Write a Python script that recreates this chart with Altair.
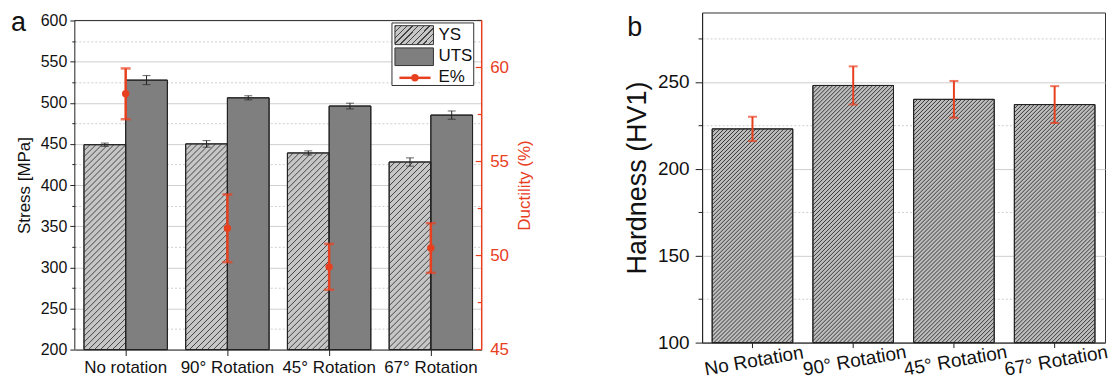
import altair as alt
import pandas as pd

# ---------------- data ----------------
cats_a = ["No rotation", "90° Rotation", "45° Rotation", "67° Rotation"]
ys = [449, 450, 439, 428]
ys_err = [2, 4, 2.5, 5]
uts = [527.5, 506, 496, 485]
uts_err = [5.5, 2.5, 3.5, 5]
elong = [58.6, 51.45, 49.4, 50.4]
elong_err = [1.35, 1.8, 1.22, 1.32]
series_names = ["YS", "UTS", "E%"]

cats_b = ["No Rotation", "90° Rotation", "45° Rotation", "67° Rotation"]
hv = [223, 248, 240, 237]
hv_err = [7, 11, 10.6, 10.6]

stress_ticks = [200, 225, 250, 275, 300, 325, 350, 375, 400, 425, 450,
                475, 500, 525, 550, 575, 600]
duct_ticks_major = [45, 50, 55, 60]
duct_ticks_minor = [47.5, 52.5, 57.5, 62.5]
duct_ticks = [45, 47.5, 50, 52.5, 55, 57.5, 60, 62.5]
hv_ticks = [100, 125, 150, 175, 200, 225, 250, 275]
panel_labels = ["a", "b"]

FONT = "Liberation Sans"
RED = "#e8401f"
DARK = "#222222"

# panel geometry (plot areas)
WA, HA = 408, 330          # panel a frame
EXT = 8                    # panel a frame sits this much lower than panel b
WB, HB = 404, 331          # panel b frame

S_LO, S_HI = 200, 600
D_LO, D_HI = 45, 62.5
s_top = S_HI + EXT / (HA / (S_HI - S_LO))
d_top = D_HI + EXT / (HA / (D_HI - D_LO))


def hatch(x2, y2, n, bg, fg, frac):
    stops = []
    for i in range(n):
        a = i / n
        b = (i + frac) / n
        c = (i + 1) / n
        stops += [{"offset": a, "color": fg}, {"offset": b, "color": fg},
                  {"offset": b, "color": bg}, {"offset": c, "color": bg}]
    return {"gradient": "linear", "x1": 0, "y1": 0, "x2": x2, "y2": y2,
            "stops": stops}


hatch_leg = hatch(1.202, 0.585, 10, "#c6c6c6", "#444444", 0.25)

# ---------------- tables ----------------
rows = []
for i, c in enumerate(cats_a):
    rows.append({"category": c, "idx": i, "series": "YS", "value": ys[i],
                 "lo": ys[i] - ys_err[i], "hi": ys[i] + ys_err[i]})
    rows.append({"category": c, "idx": i, "series": "UTS", "value": uts[i],
                 "lo": uts[i] - uts_err[i], "hi": uts[i] + uts_err[i]})
df_bars = pd.DataFrame(rows)
df_ys = df_bars[df_bars["series"] == "YS"]

df_el = pd.DataFrame({
    "category": cats_a,
    "elong": elong,
    "elo": [v - e for v, e in zip(elong, elong_err)],
    "ehi": [v + e for v, e in zip(elong, elong_err)],
})

df_hv = pd.DataFrame({
    "category": cats_b,
    "idx": list(range(len(cats_b))),
    "hv": hv,
    "lo": [v - e for v, e in zip(hv, hv_err)],
    "hi": [v + e for v, e in zip(hv, hv_err)],
})

one = pd.DataFrame({"k": [0]})


def hatch_layer(df, field, base, x_start, bar_frac, px_x, px_y, spacing,
                y_scale, color, width):
    """diagonal hatch lines clipped to each bar, computed from the bar value"""
    W = bar_frac * px_x
    return alt.Chart(df).transform_calculate(
        x0=f"datum.idx + {x_start}",
        H=f"(datum.{field} - {base}) * {px_y}",
    ).transform_calculate(
        ks=f"sequence(1, ceil(({W} + datum.H) / {spacing}))"
    ).transform_flatten(["ks"]).transform_calculate(
        c=f"datum.ks * {spacing} - datum.H"
    ).transform_calculate(
        u1="max(0, datum.c)", u2=f"min({W}, datum.H + datum.c)"
    ).transform_calculate(
        hx1=f"datum.x0 + datum.u1 / {px_x}",
        hx2=f"datum.x0 + datum.u2 / {px_x}",
        hy1=f"{base} + (datum.u1 - datum.c) / {px_y}",
        hy2=f"{base} + (datum.u2 - datum.c) / {px_y}",
    ).mark_rule(color=color, strokeWidth=width).encode(
        x=alt.X("hx1:Q", scale=alt.Scale(domain=[0, 4], nice=False, zero=False), axis=None),
        x2="hx2:Q",
        y=alt.Y("hy1:Q", scale=y_scale, axis=None),
        y2="hy2:Q",
    )


# ---------------- panel a ----------------
x_scale_a = alt.Scale(domain=cats_a, paddingInner=0.18, paddingOuter=0.09)
x_a = alt.X("category:N", sort=cats_a, scale=x_scale_a,
            axis=alt.Axis(title=None, labelAngle=0, labelFontSize=17,
                          labelColor="#111", tickSize=6, labelPadding=4,
                          domainColor=DARK, tickColor=DARK, grid=False))
x_a_noaxis = alt.X("category:N", sort=cats_a, scale=x_scale_a, axis=None)
xo = alt.XOffset("series:N", sort=["YS", "UTS"],
                 scale=alt.Scale(domain=["YS", "UTS"], paddingInner=0, paddingOuter=0))

stress_scale = alt.Scale(domain=[S_LO, s_top], nice=False, zero=False)
stress_axis = alt.Axis(
    title="Stress [MPa]", titleFontSize=17, titleFontWeight="normal",
    titleColor="#111", titlePadding=7, titleY=EXT + HA / 2,
    values=stress_ticks, labelFontSize=16, labelColor="#111", labelPadding=3,
    labelExpr="datum.value % 50 === 0 ? datum.label : ''", labelOverlap=False,
    tickSize={"condition": {"test": "datum.value % 50 === 0", "value": 5}, "value": 3},
    tickColor=DARK, domain=False,
    grid=True, gridColor="#cfcfcf",
    gridDash={"condition": {"test": "datum.value % 50 === 0", "value": []}, "value": [2, 2]},
)

bars = alt.Chart(df_bars).mark_bar(stroke=DARK, strokeWidth=1).encode(
    x=x_a, xOffset=xo,
    y=alt.Y("value:Q", scale=stress_scale, axis=stress_axis),
    y2=alt.datum(S_LO),
    fill=alt.Fill("series:N", scale=alt.Scale(domain=["YS", "UTS"],
                                              range=["#c6c6c6", "#7f7f7f"]), legend=None),
)
hatch_a = hatch_layer(df_ys, "value", S_LO, 0.09, 0.41, WA / 4, HA / (S_HI - S_LO), 6,
                      stress_scale, "#444444", 1)
outline_a = alt.Chart(df_bars).mark_bar(stroke=DARK, strokeWidth=1, fillOpacity=0).encode(
    x=x_a_noaxis, xOffset=xo,
    y=alt.Y("value:Q", scale=stress_scale, axis=None), y2=alt.datum(S_LO))
err_rule = alt.Chart(df_bars).mark_rule(color=DARK, strokeWidth=1).encode(
    x=x_a_noaxis, xOffset=xo,
    y=alt.Y("lo:Q", scale=stress_scale, axis=None), y2="hi:Q")
err_lo = alt.Chart(df_bars).mark_tick(color=DARK, thickness=1, size=8).encode(
    x=x_a_noaxis, xOffset=xo, y=alt.Y("lo:Q", scale=stress_scale, axis=None))
err_hi = alt.Chart(df_bars).mark_tick(color=DARK, thickness=1, size=8).encode(
    x=x_a_noaxis, xOffset=xo, y=alt.Y("hi:Q", scale=stress_scale, axis=None))
errs_a = alt.layer(outline_a, err_rule, err_lo, err_hi)

# frame of panel a (left axis line, top border, red right axis line)
frame_left = alt.Chart(one).mark_rule(color=DARK, strokeWidth=1).encode(
    x=alt.value(0), y=alt.YDatum(S_LO, scale=stress_scale, axis=None), y2=alt.Y2Datum(S_HI))
frame_top = alt.Chart(one).mark_rule(color="#333", strokeWidth=1).encode(
    x=alt.value(0), x2=alt.value(WA), y=alt.YDatum(S_HI, scale=stress_scale, axis=None))
frame_right = alt.Chart(one).mark_rule(color=RED, strokeWidth=1.5).encode(
    x=alt.value(WA), y=alt.YDatum(S_LO, scale=stress_scale, axis=None), y2=alt.Y2Datum(S_HI))
frame_a = alt.layer(frame_left, frame_top, frame_right)

duct_scale = alt.Scale(domain=[D_LO, d_top], nice=False, zero=False)
duct_axis = alt.Axis(
    orient="right", title="Ductility (%)", titleFontSize=17, titleFontWeight="normal",
    titleColor=RED, titleAngle=270, titleBaseline="top", titlePadding=8,
    titleY=EXT + HA / 2,
    values=duct_ticks, labelFontSize=17, labelColor=RED, labelPadding=8,
    labelExpr="datum.value % 5 === 0 ? datum.label : ''", labelOverlap=False,
    ticks=False, domain=False, grid=False,
)

el_rule = alt.Chart(df_el).mark_rule(color=RED, strokeWidth=2.5).encode(
    x=x_a_noaxis, y=alt.Y("elo:Q", scale=duct_scale, axis=duct_axis), y2="ehi:Q")
el_lo = alt.Chart(df_el).mark_tick(color=RED, thickness=2.5, size=10).encode(
    x=x_a_noaxis, y=alt.Y("elo:Q", scale=duct_scale, axis=duct_axis))
el_hi = alt.Chart(df_el).mark_tick(color=RED, thickness=2.5, size=10).encode(
    x=x_a_noaxis, y=alt.Y("ehi:Q", scale=duct_scale, axis=duct_axis))
el_pt = alt.Chart(df_el).mark_circle(color=RED, size=55, opacity=1).encode(
    x=x_a_noaxis, y=alt.Y("elong:Q", scale=duct_scale, axis=duct_axis))
tick_major = alt.Chart(pd.DataFrame({"t": duct_ticks_major})).mark_rule(
    color=RED, strokeWidth=1.2).encode(
    y=alt.Y("t:Q", scale=duct_scale, axis=duct_axis),
    x=alt.value(WA - 6), x2=alt.value(WA))
tick_minor = alt.Chart(pd.DataFrame({"t": duct_ticks_minor})).mark_rule(
    color=RED, strokeWidth=1.2).encode(
    y=alt.Y("t:Q", scale=duct_scale, axis=duct_axis),
    x=alt.value(WA - 4), x2=alt.value(WA))
duct_group = alt.layer(el_pt, el_rule, el_lo, el_hi, tick_major, tick_minor)

# legend (drawn inside the plot area)
leg_box = alt.Chart(one).mark_rect(fill="white", stroke="#333", strokeWidth=1).encode(
    x=alt.value(318), x2=alt.value(400), y=alt.value(EXT + 2.5), y2=alt.value(EXT + 65.2))
leg_ys = alt.Chart(one).mark_rect(fill=hatch_leg, stroke="#333", strokeWidth=1).encode(
    x=alt.value(321), x2=alt.value(359.6), y=alt.value(EXT + 5.2), y2=alt.value(EXT + 24.2))
leg_uts = alt.Chart(one).mark_rect(fill="#7f7f7f", stroke="#333", strokeWidth=1).encode(
    x=alt.value(321), x2=alt.value(359.6), y=alt.value(EXT + 27.5), y2=alt.value(EXT + 45.2))
leg_line = alt.Chart(one).mark_rule(color=RED, strokeWidth=2.5).encode(
    x=alt.value(325.5), x2=alt.value(356.7), y=alt.value(EXT + 57.5))
leg_dot = alt.Chart(one).mark_circle(color=RED, size=55, opacity=1).encode(
    x=alt.value(341), y=alt.value(EXT + 57.5))
leg_texts = []
for name, yy in zip(series_names, [15, 36, 57]):
    leg_texts.append(alt.Chart(one).mark_text(
        text=name, fontSize=17, align="left", baseline="middle", font=FONT,
        color="#111").encode(x=alt.value(364.6), y=alt.value(EXT + yy)))

lab_a = alt.Chart(one).mark_text(
    text=panel_labels[0], fontSize=27, align="left", baseline="alphabetic",
    font=FONT, color="#111").encode(x=alt.value(-64), y=alt.value(EXT + 11))

left = alt.layer(bars, hatch_a, errs_a, duct_group, frame_a, leg_box, leg_ys, leg_uts,
                 leg_line, leg_dot, *leg_texts, lab_a).resolve_scale(
    x="independent", y="independent", xOffset="independent").properties(
    width=WA, height=HA + EXT, view=alt.ViewBackground(stroke="transparent"))

# ---------------- panel b ----------------
x_scale_b = alt.Scale(domain=cats_b, paddingInner=0.2, paddingOuter=0.1)
x_b = alt.X("category:N", sort=cats_b, scale=x_scale_b,
            axis=alt.Axis(title=None, labelAngle=-10, labelAlign="center",
                          labelFontSize=19, labelColor="#111", tickSize=5,
                          labelPadding=4, domainColor=DARK, tickColor=DARK, grid=False))
x_b_noaxis = alt.X("category:N", sort=cats_b, scale=x_scale_b, axis=None)
hv_scale = alt.Scale(domain=[100, 290], nice=False, zero=False)
hv_axis = alt.Axis(
    title="Hardness (HV1)", titleFontSize=27, titleFontWeight="normal",
    titleColor="#111", titlePadding=6,
    values=hv_ticks, labelFontSize=19, labelColor="#111", labelPadding=6,
    labelExpr="datum.value % 50 === 0 ? datum.label : ''", labelOverlap=False,
    tickSize={"condition": {"test": "datum.value % 50 === 0", "value": 7}, "value": 4},
    tickColor=DARK, domainColor=DARK,
    grid=True, gridColor="#cfcfcf",
    gridDash={"condition": {"test": "datum.value % 50 === 0", "value": []}, "value": [2, 2]},
)
hv_bars = alt.Chart(df_hv).mark_bar(stroke=DARK, strokeWidth=1, fill="#bdbdbd").encode(
    x=x_b, y=alt.Y("hv:Q", scale=hv_scale, axis=hv_axis), y2=alt.datum(100))
hatch_b = hatch_layer(df_hv, "hv", 100, 0.1, 0.8, WB / 4, HB / 190, 4,
                      hv_scale, "#383838", 1)
hv_outline = alt.Chart(df_hv).mark_bar(stroke=DARK, strokeWidth=1, fillOpacity=0).encode(
    x=x_b_noaxis, y=alt.Y("hv:Q", scale=hv_scale, axis=None), y2=alt.datum(100))
hv_rule = alt.Chart(df_hv).mark_rule(color=RED, strokeWidth=2).encode(
    x=x_b_noaxis, y=alt.Y("lo:Q", scale=hv_scale, axis=None), y2="hi:Q")
hv_lo = alt.Chart(df_hv).mark_tick(color=RED, thickness=2, size=9).encode(
    x=x_b_noaxis, y=alt.Y("lo:Q", scale=hv_scale, axis=None))
hv_hi = alt.Chart(df_hv).mark_tick(color=RED, thickness=2, size=9).encode(
    x=x_b_noaxis, y=alt.Y("hi:Q", scale=hv_scale, axis=None))
errs_b = alt.layer(hv_outline, hv_rule, hv_lo, hv_hi)
lab_b = alt.Chart(one).mark_text(
    text=panel_labels[1], fontSize=27, align="left", baseline="alphabetic",
    font=FONT, color="#111").encode(x=alt.value(-75), y=alt.value(23.7))

right = alt.layer(hv_bars, hatch_b, errs_b, lab_b).resolve_scale(
    x="independent", y="independent").properties(width=WB, height=HB)

chart = alt.hconcat(left, right, spacing=89).properties(
    padding={"left": 2, "top": 0, "right": 0, "bottom": 0}
).configure_view(stroke="#333", strokeWidth=1).configure_axis(
    labelFont=FONT, titleFont=FONT
).configure_text(font=FONT)

chart.save("out.html", embed_options={"renderer": "svg", "actions": False})
